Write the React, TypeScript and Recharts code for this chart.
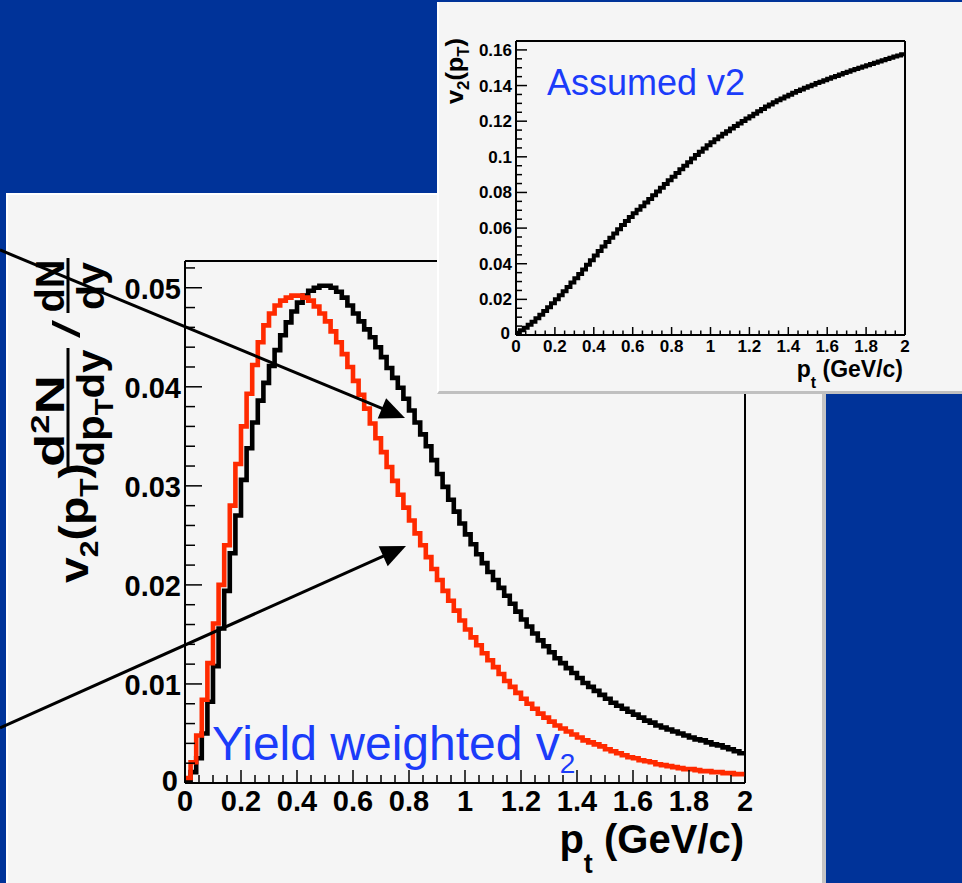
import React from 'react'
import { LineChart, Line, XAxis, YAxis, ReferenceLine } from 'recharts'

const BIN_WIDTH = 0.02

// v2-weighted pT spectrum, one value per 0.02 GeV/c bin (black)
const weightedYield = [
  0.0003, 0.0011, 0.0025, 0.005, 0.0082, 0.0118, 0.0156, 0.0194, 0.0232, 0.027,
  0.0306, 0.0338, 0.0364, 0.0386, 0.0404, 0.0421, 0.0437, 0.0452, 0.0465, 0.0476,
  0.0485, 0.0492, 0.0497, 0.05, 0.0502, 0.0502, 0.05, 0.0496, 0.049, 0.0482,
  0.0474, 0.0466, 0.0458, 0.045, 0.044, 0.043, 0.0419, 0.0409, 0.0399, 0.0388,
  0.0376, 0.0364, 0.0352, 0.034, 0.0326, 0.0312, 0.0299, 0.0286, 0.0274, 0.0262,
  0.0251, 0.0241, 0.0231, 0.0222, 0.0213, 0.0205, 0.0197, 0.0189, 0.0181, 0.0173,
  0.0165, 0.0158, 0.0151, 0.0144, 0.0138, 0.0132, 0.0126, 0.0121, 0.0116, 0.0111,
  0.0106, 0.0101, 0.0097, 0.0093, 0.0089, 0.0085, 0.0081, 0.0078, 0.0075, 0.0072,
  0.0069, 0.0066, 0.0063, 0.0061, 0.0058, 0.0056, 0.0054, 0.0052, 0.005, 0.0048,
  0.0046, 0.0044, 0.0043, 0.0041, 0.0039, 0.0038, 0.0036, 0.0034, 0.0032, 0.003,
]

// plain yield spectrum, same binning (red)
const yieldSpectrum = [
  0.0005, 0.0021, 0.0048, 0.0084, 0.0121, 0.0161, 0.02, 0.024, 0.028, 0.0322,
  0.036, 0.0393, 0.0422, 0.0445, 0.0462, 0.0474, 0.0482, 0.0487, 0.049, 0.0492,
  0.0492, 0.049, 0.0487, 0.0481, 0.0474, 0.0466, 0.0456, 0.0445, 0.0433, 0.042,
  0.0406, 0.0392, 0.0378, 0.0363, 0.0348, 0.0334, 0.0319, 0.0305, 0.0291, 0.0278,
  0.0265, 0.0252, 0.024, 0.0228, 0.0216, 0.0205, 0.0194, 0.0184, 0.0174, 0.0164,
  0.0155, 0.0147, 0.0139, 0.0131, 0.0124, 0.0117, 0.011, 0.0103, 0.0097, 0.0091,
  0.0085, 0.008, 0.0075, 0.007, 0.0066, 0.0062, 0.0058, 0.0055, 0.0052, 0.0049,
  0.0046, 0.0043, 0.0041, 0.0039, 0.0037, 0.0034, 0.0032, 0.003, 0.0028, 0.0026,
  0.0025, 0.0023, 0.0022, 0.0021, 0.0019, 0.0018, 0.0017, 0.0016, 0.0015, 0.0014,
  0.0014, 0.0013, 0.0012, 0.0012, 0.0011, 0.0011, 0.001, 0.001, 0.0009, 0.0009,
]

// input v2(pT) used for the weighting
const assumedV2 = [
  0.0012, 0.0026, 0.0041, 0.0057, 0.0075, 0.0094, 0.0114, 0.0135, 0.0156, 0.0178,
  0.02, 0.0223, 0.0246, 0.027, 0.0294, 0.0318, 0.0343, 0.0368, 0.0394, 0.042,
  0.0446, 0.0472, 0.0497, 0.0522, 0.0546, 0.057, 0.0594, 0.0617, 0.064, 0.0662,
  0.0683, 0.0703, 0.0723, 0.0743, 0.0763, 0.0784, 0.0805, 0.0826, 0.0847, 0.0868,
  0.0888, 0.0909, 0.093, 0.095, 0.097, 0.099, 0.101, 0.1029, 0.1047, 0.1065,
  0.1082, 0.1098, 0.1114, 0.1129, 0.1144, 0.1159, 0.1173, 0.1187, 0.1201, 0.1215,
  0.1228, 0.1242, 0.1256, 0.1269, 0.1282, 0.1294, 0.1306, 0.1317, 0.1328, 0.1339,
  0.1349, 0.1359, 0.1369, 0.1378, 0.1387, 0.1396, 0.1405, 0.1414, 0.1422, 0.143,
  0.1438, 0.1446, 0.1454, 0.1462, 0.147, 0.1478, 0.1486, 0.1493, 0.15, 0.1507,
  0.1514, 0.1521, 0.1528, 0.1535, 0.1542, 0.1549, 0.1556, 0.1563, 0.1569, 0.1575,
]

const ptMajorTicks = [0, 0.2, 0.4, 0.6, 0.8, 1, 1.2, 1.4, 1.6, 1.8, 2]
const mainYMajorTicks = [0, 0.01, 0.02, 0.03, 0.04, 0.05]
const insetYMajorTicks = [0, 0.02, 0.04, 0.06, 0.08, 0.1, 0.12, 0.14, 0.16]

const MAIN_Y_MAX = 0.0527
const INSET_Y_MAX = 0.165

const BLUE_BG = '#003399'
const PANEL = '#f5f5f5'
const LABEL_BLUE = '#1b3cfa'
const RED = '#ff2a00'
const FONT = '"Liberation Sans", Arial, Helvetica, sans-serif'

// major ticks plus n-1 minor ticks between each pair
function subdivide(major: number[], n: number, extra: number[] = []) {
  const out: number[] = [major[0]]
  for (let i = 1; i < major.length; i++) {
    const step = (major[i] - major[i - 1]) / n
    for (let k = 1; k <= n; k++) out.push(major[i - 1] + step * k)
  }
  return out.concat(extra)
}

const fmt = (v: number) => String(parseFloat(v.toFixed(3)))
const isMajor = (list: number[], v: number) => list.some((m) => Math.abs(m - v) < 1e-9)

// one row per lower bin edge, plus the upper edge of the last bin so stepAfter closes it
function histRows(series: Record<string, number[]>) {
  const keys = Object.keys(series)
  const n = series[keys[0]].length
  const rows: any[] = []
  for (let i = 0; i <= n; i++) {
    const row: any = { pt: i * BIN_WIDTH }
    keys.forEach((k) => (row[k] = series[k][Math.min(i, n - 1)]))
    rows.push(row)
  }
  return rows
}

const mainRows = histRows({ weighted: weightedYield, spectrum: yieldSpectrum })
const insetRows = histRows({ v2: assumedV2 })

type TickStyle = {
  major: number[]
  majorLen: number
  minorLen: number
  fontSize: number
  offset: number
  zeroShift?: number
}

// ROOT-style ticks: drawn inward, labels only on the major ones
function xTick(s: TickStyle) {
  return (props: any) => {
    const { x, y, payload } = props
    const big = isMajor(s.major, payload.value)
    return (
      <g>
        <line x1={x} x2={x} y1={y} y2={y - (big ? s.majorLen : s.minorLen)} stroke="#000" strokeWidth={1.5} />
        {big && (
          <text x={x} y={y + s.offset} textAnchor="middle" fontFamily={FONT} fontWeight="bold" fontSize={s.fontSize} fill="#000">
            {fmt(payload.value)}
          </text>
        )}
      </g>
    )
  }
}

function yTick(s: TickStyle) {
  return (props: any) => {
    const { x, y, payload } = props
    const big = isMajor(s.major, payload.value)
    const shift = payload.value === 0 ? s.zeroShift || 0 : 0
    return (
      <g>
        <line x1={x} x2={x + (big ? s.majorLen : s.minorLen)} y1={y} y2={y} stroke="#000" strokeWidth={1.5} />
        {big && (
          <text x={x - 4 - shift} y={y + s.offset - shift} textAnchor="end" fontFamily={FONT} fontWeight="bold" fontSize={s.fontSize} fill="#000">
            {fmt(payload.value)}
          </text>
        )}
      </g>
    )
  }
}

const mainX: TickStyle = { major: ptMajorTicks, majorLen: 13, minorLen: 8, fontSize: 29, offset: 28 }
const mainY: TickStyle = { major: mainYMajorTicks, majorLen: 17, minorLen: 10, fontSize: 29, offset: 11, zeroShift: 3 }
const insetX: TickStyle = { major: ptMajorTicks, majorLen: 8, minorLen: 4.5, fontSize: 17, offset: 17 }
const insetY: TickStyle = { major: insetYMajorTicks, majorLen: 11, minorLen: 6, fontSize: 17, offset: 6, zeroShift: 2 }

function Arrow({ x0, y0, x1, y1 }: { x0: number; y0: number; x1: number; y1: number }) {
  const len = Math.hypot(x1 - x0, y1 - y0)
  const ux = (x1 - x0) / len
  const uy = (y1 - y0) / len
  const head = 25
  const half = 11
  const bx = x1 - ux * head
  const by = y1 - uy * head
  return (
    <g>
      <line x1={x0} y1={y0} x2={bx + ux * 2} y2={by + uy * 2} stroke="#000" strokeWidth={3} />
      <polygon points={`${x1},${y1} ${bx - uy * half},${by + ux * half} ${bx + uy * half},${by - ux * half}`} fill="#000" />
    </g>
  )
}

// rotated text, reading bottom to top; (x, y) = baseline position of the start
function Vtext({ x, y, len, anchor = 'start', size, weight = 'bold', children }: any) {
  return (
    <text
      transform={`translate(${x} ${y}) rotate(-90)`}
      textAnchor={anchor}
      fontFamily={FONT}
      fontWeight={weight}
      fontSize={size}
      fill="#000"
      textLength={len}
      lengthAdjust="spacingAndGlyphs"
    >
      {children}
    </text>
  )
}

export default function App() {
  const ptTicks = subdivide(ptMajorTicks, 4)
  const mainYTicks = subdivide(mainYMajorTicks, 5, [0.052])
  const insetYTicks = subdivide(insetYMajorTicks, 4)
  const axisLine = { stroke: '#000', strokeWidth: 2 }

  return (
    <div style={{ position: 'absolute', left: 0, top: 0, width: 962, height: 883, background: BLUE_BG, overflow: 'hidden' }}>
      {/* main canvas */}
      <div
        style={{
          position: 'absolute', left: 6, top: 193, width: 820, height: 690, boxSizing: 'border-box',
          background: PANEL, borderTop: '2px solid #fff', borderLeft: '2px solid #fff', borderRight: '4px solid #c4c4c4',
        }}
      />
      <div style={{ position: 'absolute', left: 0, top: 0 }}>
        <LineChart width={962} height={883} data={mainRows} margin={{ top: 261, right: 217, bottom: 40, left: 125 }}>
          <XAxis
            dataKey="pt" type="number" domain={[0, 2]} ticks={ptTicks} interval={0}
            tick={xTick(mainX)} tickSize={0} tickMargin={0} tickLine={false} axisLine={axisLine} height={60}
          />
          <YAxis
            type="number" domain={[0, MAIN_Y_MAX]} ticks={mainYTicks} interval={0}
            tick={yTick(mainY)} tickSize={0} tickMargin={0} tickLine={false} axisLine={axisLine} width={60}
          />
          <ReferenceLine y={MAIN_Y_MAX} stroke="#000" strokeWidth={2} />
          <ReferenceLine x={2} stroke="#000" strokeWidth={2} />
          <Line type="stepAfter" dataKey="weighted" stroke="#000" strokeWidth={4.6} dot={false} isAnimationActive={false} />
          <Line type="stepAfter" dataKey="spectrum" stroke={RED} strokeWidth={4.6} dot={false} isAnimationActive={false} />
        </LineChart>
      </div>

      {/* inset canvas */}
      <div
        style={{
          position: 'absolute', left: 437, top: 2, width: 525, height: 392, boxSizing: 'border-box',
          background: PANEL, borderLeft: '2px solid #fff', borderBottom: '3px solid #c0c0c0',
        }}
      />
      <div style={{ position: 'absolute', left: 0, top: 0 }}>
        <LineChart width={962} height={400} data={insetRows} margin={{ top: 41, right: 57, bottom: 35, left: 476 }}>
          <XAxis
            dataKey="pt" type="number" domain={[0, 2]} ticks={ptTicks} interval={0}
            tick={xTick(insetX)} tickSize={0} tickMargin={0} tickLine={false} axisLine={axisLine} height={30}
          />
          <YAxis
            type="number" domain={[0, INSET_Y_MAX]} ticks={insetYTicks} interval={0}
            tick={yTick(insetY)} tickSize={0} tickMargin={0} tickLine={false} axisLine={axisLine} width={40}
          />
          <ReferenceLine y={INSET_Y_MAX} stroke="#000" strokeWidth={2} />
          <ReferenceLine x={2} stroke="#000" strokeWidth={2} />
          <Line type="stepAfter" dataKey="v2" stroke="#000" strokeWidth={4} dot={false} isAnimationActive={false} />
        </LineChart>
      </div>

      {/* titles, labels and arrows */}
      <svg width={962} height={883} style={{ position: 'absolute', left: 0, top: 0, pointerEvents: 'none' }}>
        {/* main y title: v2(pT) (d2N / dpT dy) / (dN / dy) */}
        <Vtext x={88} y={583} len={120} size={40}>
          v<tspan fontSize={26} dy={10}>2</tspan>
          <tspan dy={-10}>(p</tspan>
          <tspan fontSize={26} dy={10}>T</tspan>
          <tspan dy={-10}>)</tspan>
        </Vtext>
        <Vtext x={64} y={421} len={92} size={41} anchor="middle">
          d<tspan fontSize={26} dy={-15}>2</tspan>
          <tspan dy={15}>N</tspan>
        </Vtext>
        <line x1={68} x2={68} y1={348} y2={467} stroke="#000" strokeWidth={3} />
        <Vtext x={104} y={408} len={117} size={38} anchor="middle">
          dp<tspan fontSize={25} dy={9}>T</tspan>
          <tspan dy={-9}>dy</tspan>
        </Vtext>
        <Vtext x={80} y={338} len={18} size={38} weight="normal">/</Vtext>
        <Vtext x={64} y={286} len={53} size={41} anchor="middle">dN</Vtext>
        <line x1={68} x2={68} y1={258} y2={313} stroke="#000" strokeWidth={3} />
        <Vtext x={104} y={286} len={48} size={38} anchor="middle">dy</Vtext>

        {/* main x title */}
        <text x={744} y={853} textAnchor="end" fontFamily={FONT} fontWeight="bold" fontSize={40} fill="#000">
          p<tspan fontSize={27} dy={20}>t</tspan>
          <tspan dy={-20}> (GeV/c)</tspan>
        </text>

        {/* inset titles */}
        <Vtext x={463} y={104} len={66} size={24}>
          v<tspan fontSize={16} dy={6}>2</tspan>
          <tspan dy={-6}>(p</tspan>
          <tspan fontSize={16} dy={6}>T</tspan>
          <tspan dy={-6}>)</tspan>
        </Vtext>
        <text x={903} y={377} textAnchor="end" fontFamily={FONT} fontWeight="bold" fontSize={23} fill="#000">
          p<tspan fontSize={16} dy={11}>t</tspan>
          <tspan dy={-11}> (GeV/c)</tspan>
        </text>

        <text x={212} y={760} fontFamily={FONT} fontSize={48} fill={LABEL_BLUE}>
          Yield weighted v<tspan fontSize={28} dy={13}>2</tspan>
        </text>
        <text x={547} y={95} fontFamily={FONT} fontSize={36} fill={LABEL_BLUE}>
          Assumed v2
        </text>

        <Arrow x0={0} y0={250} x1={405} y1={418} />
        <Arrow x0={0} y0={728} x1={406} y1={546} />
      </svg>
    </div>
  )
}
